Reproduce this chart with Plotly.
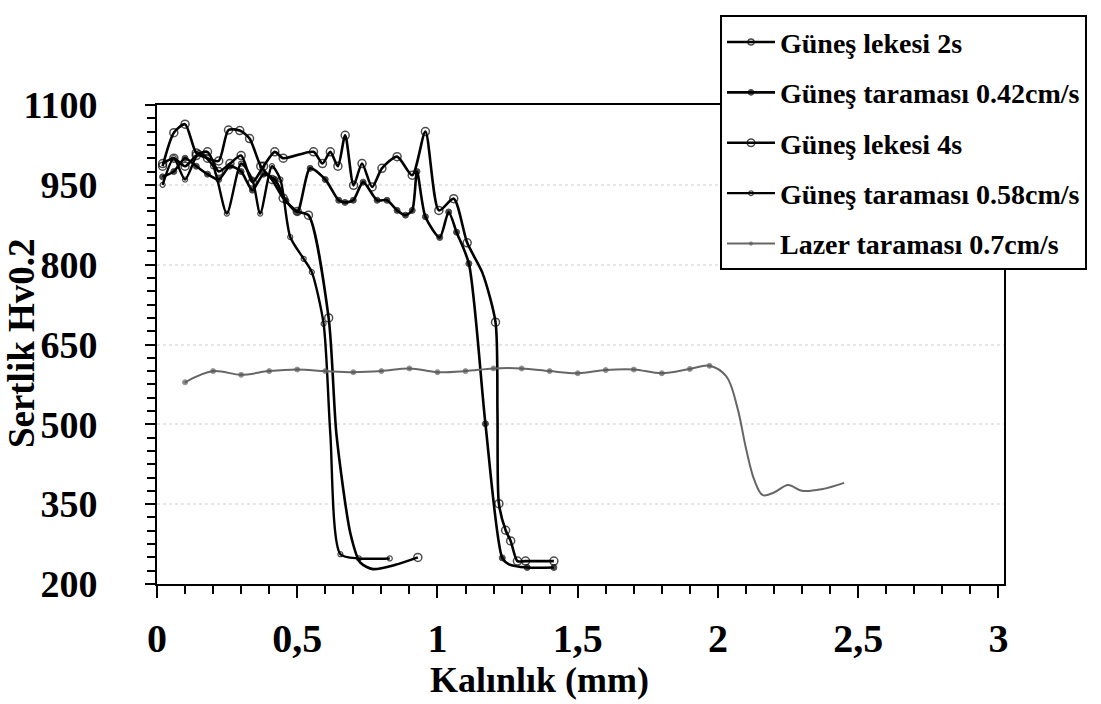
import plotly.graph_objects as go

# Hardness profiles versus depth
x_lekesi_2s = [0.02, 0.06, 0.10, 0.14, 0.18, 0.22, 0.255, 0.295, 0.33, 0.37, 0.41, 0.45, 0.50,
               0.54, 0.612, 0.64, 0.69, 0.725, 0.77, 0.85, 0.93]
y_lekesi_2s = [985, 1048, 1064, 1010, 1000, 995, 1053, 1052, 1037, 985, 960, 925, 900,
               893, 700, 480, 294, 240, 228, 236, 250]

x_tarama_042 = [0.02, 0.06, 0.10, 0.14, 0.18, 0.22, 0.26, 0.30, 0.34, 0.38, 0.42, 0.46, 0.50,
                0.546, 0.60, 0.648, 0.67, 0.70, 0.735, 0.785, 0.82, 0.856, 0.886, 0.91, 0.927,
                0.957, 1.008, 1.04, 1.068, 1.112, 1.171, 1.231, 1.255, 1.32, 1.415]
y_tarama_042 = [965, 975, 1000, 985, 970, 960, 985, 975, 940, 970, 960, 920, 899,
                981, 960, 921, 917, 921, 955, 921, 921, 902, 893, 902, 975,
                890, 851, 899, 861, 802, 501, 249, 237, 231, 231]

x_lekesi_4s = [0.02, 0.06, 0.10, 0.14, 0.18, 0.22, 0.26, 0.30, 0.34, 0.38, 0.42, 0.45, 0.558,
               0.59, 0.618, 0.645, 0.671, 0.701, 0.731, 0.767, 0.802, 0.856, 0.91, 0.957,
               1.005, 1.058, 1.106, 1.16, 1.207, 1.214, 1.219, 1.243, 1.261, 1.285, 1.314, 1.415]
y_lekesi_4s = [990, 1000, 985, 1005, 1012, 975, 990, 1005, 955, 985, 1012, 1000, 1012,
               990, 1012, 985, 1043, 949, 990, 946, 981, 1003, 968, 1050,
               902, 924, 841, 785, 692, 520, 351, 301, 281, 243, 243, 243]

x_tarama_058 = [0.02, 0.06, 0.10, 0.15, 0.20, 0.249, 0.30, 0.34, 0.368, 0.41, 0.44, 0.475,
                0.523, 0.552, 0.594, 0.618, 0.654, 0.72, 0.83]
y_tarama_058 = [950, 1000, 960, 1010, 985, 896, 990, 960, 896, 985, 960, 852,
                811, 786, 689, 482, 256, 248, 248]

x_lazer = [0.10, 0.20, 0.30, 0.40, 0.50, 0.60, 0.70, 0.80, 0.90, 1.00, 1.10, 1.20, 1.30, 1.40,
           1.50, 1.60, 1.70, 1.80, 1.90, 1.97, 2.03, 2.07, 2.10, 2.13, 2.16, 2.20, 2.25,
           2.30, 2.37, 2.45]
y_lazer = [579, 600, 593, 600, 603, 600, 598, 600, 605, 598, 600, 605, 605, 600,
           596, 602, 603, 596, 604, 610, 590, 530, 455, 395, 367, 372, 386,
           375, 378, 390]

series_names = ["Güneş lekesi 2s", "Güneş taraması 0.42cm/s", "Güneş lekesi 4s",
                "Güneş taraması 0.58cm/s", "Lazer taraması 0.7cm/s"]

x_tickvals = [0, 0.5, 1, 1.5, 2, 2.5, 3]
x_ticktext = ["0", "0,5", "1", "1,5", "2", "2,5", "3"]
y_tickvals = [200, 350, 500, 650, 800, 950, 1100]

x_title = "Kalınlık (mm)"
y_title = "Sertlik Hv0.2"

# points drawn on the curve without a marker symbol (smooth transitions)
plain_2s = {0.64, 0.69, 0.725, 0.77, 0.85}
plain_042 = {1.255}
plain_4s = {1.16, 1.214}
plain_058 = {0.618}
lazer_marker_limit = 1.97


def sizes(xs, plain, size):
    return [0 if x in plain else size for x in xs]


SERIF = "Liberation Serif"
fig = go.Figure()

styles = [
    (x_lekesi_2s, y_lekesi_2s, sizes(x_lekesi_2s, plain_2s, 8), "circle-open", "black", 2.6, 1.5),
    (x_tarama_042, y_tarama_042, sizes(x_tarama_042, plain_042, 6), "circle", "black", 2.6, 1),
    (x_lekesi_4s, y_lekesi_4s, sizes(x_lekesi_4s, plain_4s, 8), "circle-open", "black", 2.6, 1.5),
    (x_tarama_058, y_tarama_058, sizes(x_tarama_058, plain_058, 5), "circle-open", "black", 2.4, 1.2),
]
for i, (xs, ys, ms, sym, col, lw, mlw) in enumerate(styles):
    fig.add_trace(go.Scatter(
        x=xs, y=ys, name=series_names[i], mode="lines+markers",
        legendgroup=f"g{i}",
        line=dict(color=col, width=lw, shape="spline", smoothing=0.7),
        marker=dict(symbol=sym, size=ms, color=col, line=dict(color=col, width=mlw)),
    ))

fig.add_trace(go.Scatter(
    x=x_lazer, y=y_lazer, name=series_names[4], mode="lines+markers",
    legendgroup="g4",
    line=dict(color="#666666", width=2, shape="spline", smoothing=1),
    marker=dict(symbol="circle", color="#555555",
                size=[5 if x <= lazer_marker_limit else 0 for x in x_lazer]),
))

fig.update_layout(
    width=1101, height=704,
    margin=dict(l=157, r=97, t=105, b=120),
    paper_bgcolor="white", plot_bgcolor="white",
    showlegend=True,
    legend=dict(
        x=1.098, y=0.655, xanchor="right", yanchor="bottom",
        bgcolor="white", bordercolor="black", borderwidth=2,
        font=dict(family=SERIF, size=28, color="black", weight="bold"),
        traceorder="grouped", tracegroupgap=11, itemwidth=48,
    ),
    xaxis=dict(
        range=[0, 3.02], tickvals=x_tickvals, ticktext=x_ticktext,
        showline=True, linecolor="black", linewidth=2, mirror=True,
        ticks="outside", ticklen=12, tickwidth=2, tickcolor="black",
        ticklabelstandoff=6,
        minor=dict(dtick=0.1, ticks="outside", ticklen=8, tickwidth=1.5, tickcolor="black"),
        showgrid=False, zeroline=False,
        tickfont=dict(family=SERIF, size=40, color="black", weight="bold"),
    ),
    yaxis=dict(
        range=[200, 1100], tickvals=y_tickvals,
        showline=True, linecolor="black", linewidth=2, mirror=True,
        ticks="outside", ticklen=10, tickwidth=2, tickcolor="black",
        ticklabelstandoff=40,
        minor=dict(dtick=25, ticks="outside", ticklen=8, tickwidth=1.5, tickcolor="black"),
        showgrid=True, gridcolor="#e6e6e6", griddash="dot", gridwidth=2,
        zeroline=False,
        tickfont=dict(family=SERIF, size=38, color="black", weight="bold"),
    ),
    annotations=[
        dict(text=x_title, xref="paper", yref="paper", x=0.452, y=-0.2,
             xanchor="center", yanchor="middle", showarrow=False,
             font=dict(family=SERIF, size=36, color="black", weight="bold")),
        dict(text=y_title, xref="paper", yref="paper", x=-0.1605, y=0.503,
             xanchor="center", yanchor="middle", showarrow=False, textangle=-90,
             font=dict(family=SERIF, size=37, color="black", weight="bold")),
    ],
)

fig.write_html("out.html")
